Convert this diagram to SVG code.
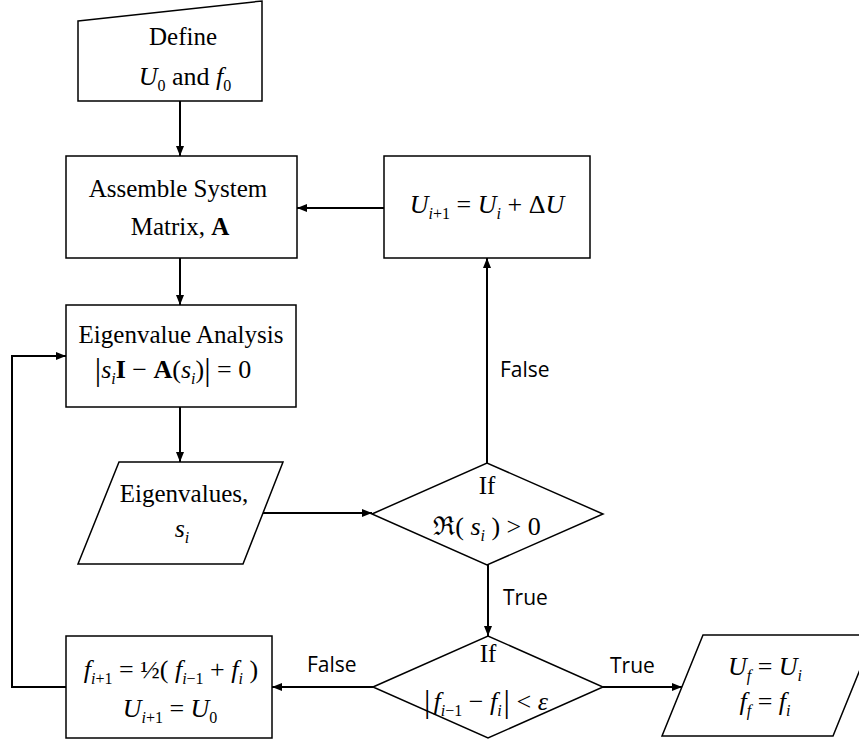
<svg xmlns="http://www.w3.org/2000/svg" width="859" height="742" viewBox="0 0 859 742">
<style>
.shape{fill:#fff;stroke:#000;stroke-width:1.5}
.conn{fill:none;stroke:#000;stroke-width:2}
.t{font-family:"Liberation Serif","Times New Roman",serif;font-size:25px;fill:#000}
.m{font-size:26px}
.lbl{font-family:"Open Sans","Liberation Sans",sans-serif;font-size:21px;fill:#000}
.i{font-style:italic}
.b{font-weight:bold}
.s{font-size:16px}
.bar{font-size:32px}
</style>
<defs>
<marker id="arr" markerUnits="userSpaceOnUse" markerWidth="10" markerHeight="8" refX="10" refY="4" orient="auto">
<path d="M0,0 L10,4 L0,8 z" fill="#000"/>
</marker>
</defs>
<rect width="859" height="742" fill="#fff"/>
<g id="connectors">
<line class="conn" x1="180" y1="101" x2="180" y2="156" marker-end="url(#arr)"/>
<line class="conn" x1="180" y1="258" x2="180" y2="305" marker-end="url(#arr)"/>
<line class="conn" x1="180" y1="407" x2="180" y2="462" marker-end="url(#arr)"/>
<line class="conn" x1="263" y1="513" x2="372" y2="513" marker-end="url(#arr)"/>
<line class="conn" x1="487" y1="463" x2="487" y2="258" marker-end="url(#arr)"/>
<line class="conn" x1="384" y1="208" x2="297" y2="208" marker-end="url(#arr)"/>
<line class="conn" x1="488" y1="565" x2="488" y2="636" marker-end="url(#arr)"/>
<line class="conn" x1="603" y1="687" x2="682" y2="687" marker-end="url(#arr)"/>
<line class="conn" x1="373" y1="687" x2="272" y2="687" marker-end="url(#arr)"/>
<path class="conn" d="M66,687 L12,687 L12,356 L66,356" stroke-width="2.5" marker-end="url(#arr)"/>
<text class="lbl" x="500" y="377">False</text>
<text class="lbl" x="503" y="605">True</text>
<text class="lbl" x="610" y="673">True</text>
<text class="lbl" x="307" y="672">False</text>
</g>
<g id="define">
<path class="shape" d="M78,21 L262,1 L262,101 L78,101 Z"/>
<text class="t" x="183" y="45" text-anchor="middle">Define</text>
<text class="t m" x="185" y="85" text-anchor="middle"><tspan class="i">U</tspan><tspan class="s" dy="6">0</tspan><tspan dy="-6"> and </tspan><tspan class="i">f</tspan><tspan class="s" dy="6">0</tspan></text>
</g>
<g id="assemble">
<rect class="shape" x="66" y="156" width="231" height="102"/>
<text class="t" x="178" y="197" text-anchor="middle">Assemble System</text>
<text class="t" x="180" y="235" text-anchor="middle">Matrix, <tspan class="b">A</tspan></text>
</g>
<g id="eigen">
<rect class="shape" x="66" y="305" width="230" height="102"/>
<text class="t" x="181" y="343" text-anchor="middle">Eigenvalue Analysis</text>
<text class="t m" x="173" y="378" text-anchor="middle"><tspan class="bar" dy="2">|</tspan><tspan class="i" dy="-2">s</tspan><tspan class="s i" dy="6">i</tspan><tspan class="b" dy="-6">I</tspan> − <tspan class="b">A</tspan>(<tspan class="i">s</tspan><tspan class="s i" dy="6">i</tspan><tspan dy="-6">)</tspan><tspan class="bar" dy="2">|</tspan><tspan dy="-2"> = 0</tspan></text>
</g>
<g id="eigenvalues">
<path class="shape" d="M119,462 L283,462 L243,564 L78,564 Z"/>
<text class="t" x="184" y="502" text-anchor="middle">Eigenvalues,</text>
<text class="t m" x="182" y="537" text-anchor="middle"><tspan class="i">s</tspan><tspan class="s i" dy="6">i</tspan></text>
</g>
<g id="update-u">
<rect class="shape" x="384" y="156" width="206" height="102"/>
<text class="t m" x="487" y="213" text-anchor="middle"><tspan class="i">U</tspan><tspan class="s i" dy="6">i</tspan><tspan class="s">+1</tspan><tspan dy="-6"> = </tspan><tspan class="i">U</tspan><tspan class="s i" dy="6">i</tspan><tspan dy="-6"> + Δ</tspan><tspan class="i">U</tspan></text>
</g>
<g id="check-real">
<path class="shape" d="M372,514 L487,463 L603,514 L487,565 Z"/>
<text class="t" x="487" y="494" text-anchor="middle">If</text>
<text class="t m" x="487" y="535" text-anchor="middle">ℜ( <tspan class="i">s</tspan><tspan class="s i" dy="6">i</tspan><tspan dy="-6"> ) &gt; 0</tspan></text>
</g>
<g id="check-conv">
<path class="shape" d="M373,687 L488,636 L603,687 L488,738 Z"/>
<text class="t" x="488" y="662" text-anchor="middle">If</text>
<text class="t m" x="486" y="710" text-anchor="middle"><tspan class="bar" dy="2">|</tspan><tspan class="i" dy="-2" dx="3">f</tspan><tspan class="s i" dy="6">i</tspan><tspan class="s">−1</tspan><tspan dy="-6"> − </tspan><tspan class="i">f</tspan><tspan class="s i" dy="6">i</tspan><tspan class="bar" dy="-4" dx="2">|</tspan><tspan dy="-2"> &lt; </tspan><tspan class="i">ε</tspan></text>
</g>
<g id="bisect">
<rect class="shape" x="66" y="636" width="206" height="102"/>
<text class="t m" x="171" y="678" text-anchor="middle"><tspan class="i">f</tspan><tspan class="s i" dy="6">i</tspan><tspan class="s">+1</tspan><tspan dy="-6"> = ½( </tspan><tspan class="i">f</tspan><tspan class="s i" dy="6">i</tspan><tspan class="s">−1</tspan><tspan dy="-6"> + </tspan><tspan class="i">f</tspan><tspan class="s i" dy="6">i</tspan><tspan dy="-6"> )</tspan></text>
<text class="t m" x="170" y="717" text-anchor="middle"><tspan class="i">U</tspan><tspan class="s i" dy="6">i</tspan><tspan class="s">+1</tspan><tspan dy="-6"> = </tspan><tspan class="i">U</tspan><tspan class="s" dy="6">0</tspan></text>
</g>
<g id="result">
<path class="shape" d="M703,635 L874,635 L833,736 L662,736 Z"/>
<text class="t m" x="765" y="675" text-anchor="middle"><tspan class="i">U</tspan><tspan class="s i" dy="6">f</tspan><tspan dy="-6"> = </tspan><tspan class="i">U</tspan><tspan class="s i" dy="6">i</tspan></text>
<text class="t m" x="765" y="710" text-anchor="middle"><tspan class="i">f</tspan><tspan class="s i" dy="6">f</tspan><tspan dy="-6"> = </tspan><tspan class="i">f</tspan><tspan class="s i" dy="6">i</tspan></text>
</g>
</svg>
